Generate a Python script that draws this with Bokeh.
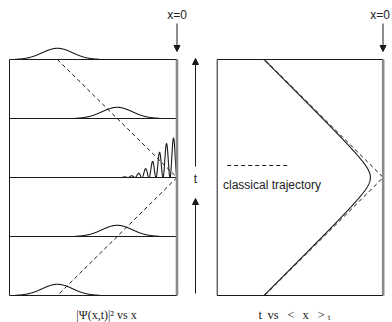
import numpy as np
from bokeh.plotting import figure
from bokeh.models import Range1d, Arrow, NormalHead, Label
from bokeh.embed import file_html
from bokeh.resources import INLINE

# ---------------- data (schematic) ----------------
snapshot_times = [2, 1, 0, -1, -2]                      # t of each |Psi|^2 snapshot, top to bottom
packet_centres = [-0.714, -0.357, 0.0, -0.357, -0.714]  # packet centre x at each snapshot
packet_widths = [0.09, 0.09, 0.108, 0.09, 0.09]          # packet sigma (x units)
packet_heights = [0.19, 0.19, 0.68, 0.19, 0.19]          # peak height (t units)
packet_reflecting = [False, False, True, False, False]   # interference pattern at the wall
fringe_wavenumber = 75.0
speed = 0.357                 # |d<x>/dt| far from the wall
closest_approach = 0.077      # how far <x>_t stays from the wall
t_limits = [-2.0, 2.0]
x_limits = [-1.0, 0.0]
wall_x = 0.0

# ---------------- figure in page-pixel coordinates ----------------
W, H, M = 392, 322, 0
p = figure(width=W, height=H, x_range=Range1d(M, M + W), y_range=Range1d(M + H, M),
           toolbar_location=None, output_backend="svg", min_border=0,
           x_axis_location=None, y_axis_location=None, outline_line_color=None,
           background_fill_color="white", border_fill_color="white")
p.grid.visible = False


def span_range(d0, d1, p0, p1, start, length):
    k = (p1 - p0) / (d1 - d0)
    s = d0 - (p0 - start) / k
    return Range1d(start=s, end=s + length / k)


ky = (295 - 59) / (t_limits[1] - t_limits[0])
t_end = t_limits[1] + (59 - M) / ky
p.extra_y_ranges = {"ty": Range1d(start=t_end - H / ky, end=t_end)}
p.extra_x_ranges = {
    "lx": span_range(x_limits[0], x_limits[1], 9, 176.5, M, W),
    "rx": span_range(x_limits[0], x_limits[1], 216.7, 382.7, M, W),
}

BLACK = "#1a1a1a"
WALL = "#8a8a8a"
TEXT = "#222222"

# ---------------- left panel: |Psi(x,t)|^2 ----------------
for t in snapshot_times:
    p.line([x_limits[0], x_limits[1]], [t, t], x_range_name="lx", y_range_name="ty",
           line_color=BLACK, line_width=1)
p.line([x_limits[0], x_limits[0]], t_limits, x_range_name="lx", y_range_name="ty",
       line_color=BLACK, line_width=1)

for t, c, s, h, refl in zip(snapshot_times, packet_centres, packet_widths,
                            packet_heights, packet_reflecting):
    if refl:
        xs = np.linspace(c - 3.1 * s, wall_x, 700)
        ys = t + h * np.exp(-(xs - c) ** 2 / (2 * s ** 2)) * np.sin(fringe_wavenumber * xs) ** 2
    else:
        xs = np.linspace(c - 2.8 * s, min(c + 2.8 * s, wall_x), 300)
        ys = t + h * np.exp(-(xs - c) ** 2 / (2 * s ** 2))
    p.line(xs, ys, x_range_name="lx", y_range_name="ty", line_color=BLACK, line_width=1.1)

# classical trajectory through the packet centres
p.line(packet_centres, snapshot_times, x_range_name="lx", y_range_name="ty",
       line_color=BLACK, line_width=1, line_dash="4 3")

p.line([wall_x, wall_x], t_limits, x_range_name="lx", y_range_name="ty",
       line_color=WALL, line_width=2.6)

# ---------------- right panel: t vs <x>_t ----------------
p.line([x_limits[0], wall_x], [t_limits[1], t_limits[1]], x_range_name="rx", y_range_name="ty",
       line_color=BLACK, line_width=1)
p.line([x_limits[0], wall_x], [t_limits[0], t_limits[0]], x_range_name="rx", y_range_name="ty",
       line_color=BLACK, line_width=1)
p.line([x_limits[0], x_limits[0]], t_limits, x_range_name="rx", y_range_name="ty",
       line_color=BLACK, line_width=1)

tt = np.linspace(t_limits[0], t_limits[1], 401)
p.line(-speed * np.abs(np.array([t_limits[0], 0.0, t_limits[1]])), [t_limits[0], 0.0, t_limits[1]],
       x_range_name="rx", y_range_name="ty", line_color=BLACK, line_width=1, line_dash="4 3")
p.line(-np.sqrt(closest_approach ** 2 + (speed * tt) ** 2), tt,
       x_range_name="rx", y_range_name="ty", line_color=BLACK, line_width=1.1)

p.line([wall_x, wall_x], t_limits, x_range_name="rx", y_range_name="ty",
       line_color=WALL, line_width=2.6)

# legend for the classical trajectory
p.line([226.7, 286.7], [165, 165], line_color=BLACK, line_width=1, line_dash="4 3")
p.add_layout(Label(x=222.5, y=184, text="classical trajectory", text_font="Liberation Sans",
                   text_font_size="12px", text_color=TEXT, text_baseline="middle",
                   text_align="left"))

# ---------------- arrows and labels ----------------
def arrow(x0, y0, x1, y1):
    p.add_layout(Arrow(end=NormalHead(size=6, fill_color=BLACK, line_color=BLACK, line_width=1),
                       x_start=x0, y_start=y0, x_end=x1, y_end=y1,
                       line_color=BLACK, line_width=1))

arrow(176.5, 23, 176.5, 51)
arrow(382.5, 23, 382.5, 51)
arrow(195, 166, 195, 58)
arrow(195, 293, 195, 198)

p.add_layout(Label(x=176.5, y=14, text="x=0", text_font="Liberation Sans", text_font_size="12px",
                   text_color=TEXT, text_align="center", text_baseline="middle"))
p.add_layout(Label(x=379.5, y=14, text="x=0", text_font="Liberation Sans", text_font_size="12px",
                   text_color=TEXT, text_align="center", text_baseline="middle"))
p.add_layout(Label(x=195, y=178, text="t", text_font="Liberation Sans", text_font_size="12px",
                   text_color=TEXT, text_align="center", text_baseline="middle"))

p.add_layout(Label(x=106, y=314, text="|\u03a8(x,t)|\u00b2 vs x", text_font="Liberation Serif",
                   text_font_size="12px", text_color=TEXT, text_align="center",
                   text_baseline="middle"))

# right caption: t vs < x >_t, with math-like spacing
caption_tokens = ["t", "vs", "<", "x", ">"]
caption_left = [258, 267, 287, 302, 317]
for tok, x0 in zip(caption_tokens, caption_left):
    p.add_layout(Label(x=x0, y=314, text=tok, text_font="Liberation Serif",
                       text_font_size="12.5px", text_color=TEXT, text_align="left",
                       text_baseline="middle"))
p.add_layout(Label(x=327.5, y=316.5, text="t", text_font="Liberation Serif",
                   text_font_size="8.5px", text_color=TEXT, text_align="left",
                   text_baseline="middle"))

open("out.html", "w").write(file_html(p, INLINE))
